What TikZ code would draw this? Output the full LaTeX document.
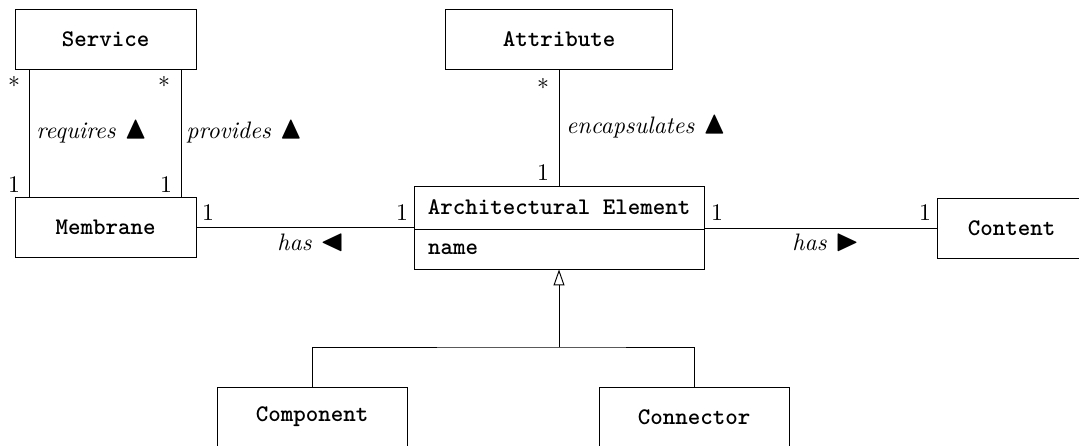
\documentclass[tikz,border=0pt]{standalone}
\usepackage{fontspec}
\usepackage{amssymb}
\usepackage{graphicx}
\usetikzlibrary{arrows.meta,calc}
\def\ux{0.42pt}
\newcommand\umlup{\scalebox{1.35}{$\blacktriangle$}}
\newcommand\umlleft{\scalebox{1.3}{$\blacktriangleleft$}}
\newcommand\umlright{\scalebox{1.3}{$\blacktriangleright$}}
\tikzset{
  umlbox/.style={draw, rectangle, minimum height=60*\ux, inner sep=0pt, font=\ttfamily\bfseries},
  mult/.style={inner sep=0pt, anchor=base},
  assoc/.style={inner sep=0pt, font=\itshape, anchor=base west},
}
\begin{document}
\begin{tikzpicture}[x=\ux,y=-\ux]
\useasboundingbox (0,0) rectangle (1079,445);
\clip (0,0) rectangle (1079,445);

% classes
\node[umlbox, minimum width=181*\ux] (Service) at (105.5,39) {Service};
\node[umlbox, minimum width=181*\ux] (Membrane) at (105.5,227) {Membrane};
\node[umlbox, minimum width=227*\ux] (Attribute) at (559,39) {Attribute};
\node[umlbox, minimum width=290*\ux, minimum height=43*\ux] (AE) at (559,207.5) {Architectural Element};
\node[draw, minimum width=290*\ux, minimum height=40*\ux, inner sep=0pt, font=\ttfamily\bfseries, text width=262*\ux, align=left] (AEattr) at (559,249) {name};
\node[umlbox, minimum width=149*\ux] (Content) at (1011.5,228) {Content};
\node[umlbox, minimum width=190*\ux] (Component) at (312,417) {Component};
\node[umlbox, minimum width=190*\ux] (Connector) at (694,417) {Connector};

% associations
\draw ($(Service.south west)+(15,0)$) -- ($(Membrane.north west)+(15,0)$);
\draw ($(Service.south east)+(-15,0)$) -- ($(Membrane.north east)+(-15,0)$);
\draw (Attribute.south) -- (AE.north);
\draw (Membrane.east) -- (Membrane.east -| AE.west);
\draw (Content.west) -- (Content.west -| AE.east);

% generalization
\coordinate (gen) at (559,347);
\draw[-{Triangle[open,width=4.6pt,length=6.7pt]}] (gen) -- (AEattr.south);
\draw (Component.north) |- (gen) -| (Connector.north);

% multiplicities
\node[mult] at (14,88) {$*$};
\node[mult] at (164,88) {$*$};
\node[mult] at (14,192) {1};
\node[mult] at (166,192) {1};
\node[mult] at (543,89) {$*$};
\node[mult] at (543,180) {1};
\node[mult] at (208,220) {1};
\node[mult] at (402,220) {1};
\node[mult] at (717,220) {1};
\node[mult] at (925,220) {1};

% association names
\node[assoc] at (36,138) {requires \umlup};
\node[assoc] at (186,138) {provides \umlup};
\node[assoc] at (566,133) {encapsulates \umlup};
\node[assoc] at (277,250) {has \umlleft};
\node[assoc] at (792,250) {has \umlright};
\end{tikzpicture}
\end{document}
